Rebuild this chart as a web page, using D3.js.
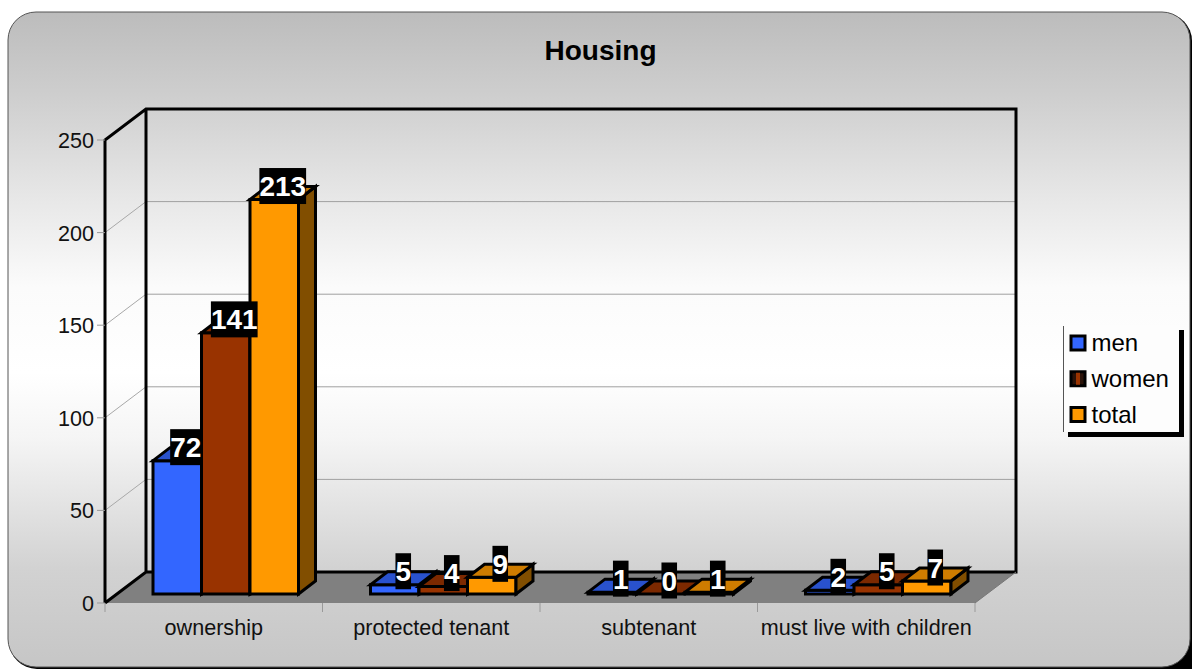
<!DOCTYPE html>
<html><head><meta charset="utf-8">
<script src="https://cdn.jsdelivr.net/npm/d3@7"></script>
<style>html,body{margin:0;padding:0;background:#fff}svg{display:block}text{font-family:"Liberation Sans",Arial,sans-serif}</style>
</head><body><div id="c"></div>
<script>
const categories = ["ownership","protected tenant","subtenant","must live with children"];
const men = [72,5,1,2];
const women = [141,4,0,5];
const total = [213,9,1,7];
const seriesNames = ["men","women","total"];
const seriesValues = [men,women,total];
const seriesColors = ["#3366ff","#993300","#ff9900"];
const yTicks = [0,50,100,150,200,250];

const W=1192,H=669;
const svg=d3.select("#c").append("svg").attr("width",W).attr("height",H);
const defs=svg.append("defs");
const g=defs.append("linearGradient").attr("id","bg").attr("x1",0).attr("x2",0).attr("y1",0).attr("y2",1);
[[0,"#bcbcbc"],[0.12,"#cdcdcd"],[0.29,"#e8e8e8"],[0.42,"#fbfbfb"],[0.55,"#ffffff"],[0.65,"#f5f5f5"],[0.85,"#d2d2d2"],[1,"#c6c6c6"]].forEach(s=>g.append("stop").attr("offset",s[0]).attr("stop-color",s[1]));

// panel
svg.append("rect").attr("x",9).attr("y",13).attr("width",1183).attr("height",656).attr("rx",28).attr("fill","#000");
svg.append("path").attr("d","M1162,669L1192,669L1192,638Z").attr("fill","#000");
svg.append("rect").attr("x",8).attr("y",12).attr("width",1182).attr("height",655).attr("rx",28)
  .attr("fill","url(#bg)").attr("stroke","#555").attr("stroke-width",1);

// projection
const x0=105,x1=975,y0=603,yTop=140;
const wallDx=41,wallDy=-31;     // wall depth
const barOffX=12,barOffY=-9;    // bars stand inside the floor
const barDx=17,barDy=-13;       // bar depth
const x=d3.scaleBand().domain(categories).range([x0,x1]).paddingInner(0).paddingOuter(0);
const y=d3.scaleLinear().domain([0,250]).range([y0,yTop]);
const line=d3.line();
const poly=(sel,pts,fill,stroke,sw)=>sel.append("path").attr("d",line(pts)+"Z").attr("fill",fill).attr("stroke",stroke||"none").attr("stroke-width",sw||0).attr("stroke-linejoin","miter");

// floor
poly(svg,[[x0,y0],[x1,y0],[x1+wallDx,y0+wallDy],[x0+wallDx,y0+wallDy]],"#808080");
// gridlines
const gr=svg.append("g");
yTicks.slice(1,-1).forEach(t=>{
  gr.append("line").attr("x1",x0).attr("y1",y(t)).attr("x2",x0+wallDx).attr("y2",y(t)+wallDy).attr("stroke","#a8a8a8").attr("stroke-width",1);
  gr.append("line").attr("x1",x0+wallDx).attr("y1",y(t)+wallDy).attr("x2",x1+wallDx).attr("y2",y(t)+wallDy).attr("stroke","#a0a0a0").attr("stroke-width",1);
});
// wall frame
const frame=d3.line();
svg.append("path").attr("fill","none").attr("stroke","#000").attr("stroke-width",3).attr("stroke-linejoin","miter")
  .attr("d",frame([[x0,y0],[x0,yTop],[x0+wallDx,yTop+wallDy],[x1+wallDx,yTop+wallDy],[x1+wallDx,y0+wallDy],[x0+wallDx,y0+wallDy],[x0,y0]])
   +frame([[x0+wallDx,yTop+wallDy],[x0+wallDx,y0+wallDy]]));
svg.append("line").attr("x1",x1).attr("y1",y0).attr("x2",x1+wallDx).attr("y2",y0+wallDy).attr("stroke","#777").attr("stroke-width",1);

// axes ticks
yTicks.forEach(t=>{
  svg.append("line").attr("x1",x0-8).attr("x2",x0).attr("y1",y(t)).attr("y2",y(t)).attr("stroke","#999");
  svg.append("text").attr("x",x0-11).attr("y",y(t)+8).attr("text-anchor","end").attr("font-size",21.6).attr("fill","#111").text(t);
});
categories.concat([null]).forEach((c,i)=>{
  const px=c?x(c):x1;
  svg.append("line").attr("x1",px).attr("x2",px).attr("y1",y0).attr("y2",y0+9).attr("stroke","#999");
});
categories.forEach(c=>{
  svg.append("text").attr("x",x(c)+x.bandwidth()/2).attr("y",635).attr("text-anchor","middle").attr("font-size",21.6).attr("fill","#111").text(c);
});

// bars
const inner=d3.scaleBand().domain(seriesNames).range([36,x.bandwidth()-36]);
const labels=[];
categories.forEach((c,ci)=>{
  seriesNames.forEach((s,si)=>{
    const v=seriesValues[si][ci], col=seriesColors[si];
    const l=x(c)+inner(s)+barOffX, r=l+inner.bandwidth();
    const b=y(0)+barOffY, t=y(v)+barOffY;
    const G=svg.append("g");
    if(v>0) poly(G,[[l,b],[r,b],[r,t],[l,t]],col,"#000",3);
    poly(G,[[r,b],[r+barDx,b+barDy],[r+barDx,t+barDy],[r,t]],d3.rgb(col).darker(1.9).formatHex(),"#000",3);
    poly(G,[[l,t],[r,t],[r+barDx,t+barDy],[l+barDx,t+barDy]],d3.rgb(col).darker(0.6).formatHex(),"#000",3);
    labels.push({v,cx:(l+r)/2+barDx/2,cy:t+barDy/2-7});
  });
});
// value labels
labels.forEach(d=>{
  const tx=svg.append("text").attr("x",d.cx).attr("y",d.cy+10).attr("text-anchor","middle")
    .attr("font-size",28).attr("font-weight","bold").attr("fill","#fff").text(d.v);
  const w=tx.node().getComputedTextLength();
  svg.insert("rect",()=>tx.node()).attr("x",d.cx-w/2).attr("y",d.cy-18).attr("width",w).attr("height",36).attr("fill","#000");
});

// title
svg.append("text").attr("x",600.5).attr("y",60).attr("text-anchor","middle").attr("font-size",28).attr("font-weight","bold").attr("fill","#000").text("Housing");

// legend
const L=svg.append("g");
L.append("rect").attr("x",1068).attr("y",330).attr("width",116).attr("height",107).attr("fill","#000");
L.append("rect").attr("x",1063).attr("y",326).attr("width",116).attr("height",106).attr("fill","#fdfdfd");
L.append("line").attr("x1",1063.5).attr("x2",1063.5).attr("y1",326).attr("y2",432).attr("stroke","#555");
const ly=d3.scalePoint().domain(seriesNames).range([343,414.5]);
seriesNames.forEach((s,i)=>{
  const yy=ly(s);
  L.append("rect").attr("x",1071).attr("y",yy-7).attr("width",14).attr("height",14).attr("fill",i==1?"#2a1208":seriesColors[i]).attr("stroke","#000").attr("stroke-width",3);
  if(i==1) L.append("rect").attr("x",1076).attr("y",yy-6).attr("width",4).attr("height",12).attr("fill",seriesColors[i]);
  L.append("text").attr("x",1091.5).attr("y",yy+8).attr("font-size",24).attr("fill","#000").text(s);
});
</script></body></html>
